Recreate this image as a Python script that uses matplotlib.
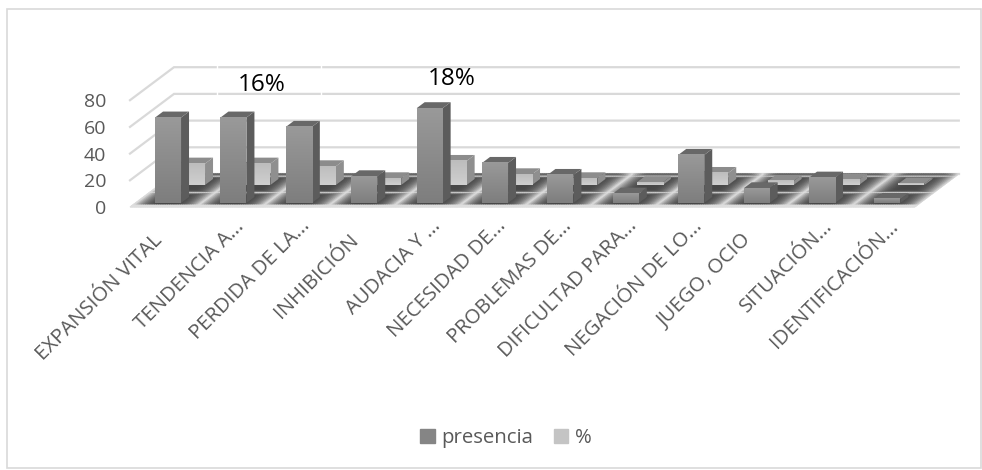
import matplotlib
matplotlib.use("Agg")
import matplotlib.pyplot as plt
import numpy as np
from matplotlib.patches import Patch, Polygon, Rectangle
from matplotlib.transforms import ScaledTranslation

plt.rcParams["font.family"] = ["Open Sans", "DejaVu Sans"]

categories = [
    "EXPANSIÓN VITAL", "TENDENCIA A...", "PERDIDA DE LA...", "INHIBICIÓN",
    "AUDACIA Y ...", "NECESIDAD DE...", "PROBLEMAS DE...", "DIFICULTAD PARA...",
    "NEGACIÓN DE LO...", "JUEGO, OCIO", "SITUACIÓN...", "IDENTIFICACIÓN...",
]
presencia = [64, 64, 57, 20, 71, 30, 21, 7, 36, 11, 19, 3]
porcentaje = [16, 16, 14, 5, 18, 8, 5, 2, 9, 3, 4, 1]
value_ticks = [0, 20, 40, 60, 80]
shown_labels = {1: "16%", 4: "18%"}

W, H = 982, 470
LEFT, BOTTOM = 130, 207  # front left corner of the floor, pixels
CELL = 65.4
UNIT = 1.335  # pixels per value unit
FLOOR_DEPTH = 33
SKEW = 44 / 33
BAR_W = 26 / CELL
TEXT = "#595959"

fig = plt.figure(figsize=(W / 100, H / 100), dpi=100)
ax = fig.add_axes([
    LEFT / W, (H - BOTTOM) / H, 12 * CELL / W, 80 * UNIT / H,
])
ax.set_xlim(-0.5, 11.5)
ax.set_ylim(0, 80)


def depth_xy(x, v, depth):
    """Oblique projection: depth in pixels goes up and to the right."""
    return x + depth * SKEW / CELL, v + depth / UNIT


def px(x_pixel, y_pixel):
    """Figure pixel (top-left origin) to data coordinates."""
    return (x_pixel - LEFT) / CELL - 0.5, (BOTTOM - y_pixel) / UNIT


# Floor
u = np.linspace(0, 12, 361)
w = np.linspace(0, 1, 61)
uu, ww = np.meshgrid(u, w)
cell_pos = np.abs(uu % 1 - 0.5) * 2
row_pos = np.abs(((ww + 0.05) * 2) % 1 - 0.5) * 2
shade = 0.28 + 0.6 * np.maximum(cell_pos**3, row_pos**9)
shade[ww < 0.09] = 0.87
xf, yf = depth_xy(uu - 0.5, 0, ww * FLOOR_DEPTH)
ax.pcolormesh(xf, yf, shade, cmap="gray", vmin=0, vmax=1,
              shading="gouraud", zorder=1, clip_on=False)

# Grid lines on the side and back walls
for v in value_ticks[1:]:
    bx0, by0 = depth_xy(-0.5, v, FLOOR_DEPTH)
    bx1, by1 = depth_xy(11.5, v, FLOOR_DEPTH)
    ax.plot([-0.5, bx0, bx1], [v, by0, by1], color="#d9d9d9", lw=1.6,
            zorder=0, clip_on=False, solid_joinstyle="miter")
bx0, by0 = depth_xy(-0.5, 0, FLOOR_DEPTH)
bx1, by1 = depth_xy(11.5, 0, FLOOR_DEPTH)
ax.plot([bx0, bx1], [by0, by1], color="#d9d9d9", lw=1.6, zorder=0, clip_on=False)

# White slits left in the upper grid lines by the label boxes
for slit in [217, 321]:
    sx, sy0 = px(slit, 97)
    _, sy1 = px(slit, 63)
    ax.plot([sx, sx], [sy0, sy1], color="white", lw=1.0, zorder=0.5, clip_on=False)


def draw_bars(values, depth, top_dark, side_dark, grad_top, grad_bottom, z):
    dx = 8 / CELL
    dy = 6 / UNIT
    for i, val in enumerate(values):
        x0, y0 = depth_xy(i - BAR_W / 2, 0, depth)
        x1 = x0 + BAR_W
        y1 = y0 + val
        zi = z + i * 0.01
        ax.bar(x0, val, width=BAR_W, bottom=y0, align="edge", color=grad_bottom,
               zorder=zi, clip_on=False)
        grad = np.linspace(0, 1, 32).reshape(-1, 1)
        ax.imshow(grad, extent=[x0, x1, y0, y1], aspect="auto", origin="lower",
                  cmap=matplotlib.colors.LinearSegmentedColormap.from_list(
                      "g", [grad_bottom, grad_top]),
                  zorder=zi + 0.001, clip_on=False, interpolation="bilinear")
        ax.add_patch(Polygon([(x1, y0), (x1 + dx, y0 + dy), (x1 + dx, y1 + dy), (x1, y1)],
                             closed=True, fc=side_dark, ec="none", zorder=zi,
                             clip_on=False))
        ax.add_patch(Polygon([(x0, y1), (x1, y1), (x1 + dx, y1 + dy), (x0 + dx, y1 + dy)],
                             closed=True, fc=top_dark, ec="none", zorder=zi,
                             clip_on=False))


draw_bars(porcentaje, 22, "#8c8c8c", "#8f8f8f", "#bdbdbd", "#cfcfcf", 2)
draw_bars(presencia, 4, "#686868", "#5c5c5c", "#999999", "#7e7e7e", 3)
ax.set_xlim(-0.5, 11.5)
ax.set_ylim(0, 80)

# Data labels of the % series, the second one cut at the bottom in the source
lab_pos = {1: (262, 85), 4: (452, 79)}
for i, txt in shown_labels.items():
    tx, ty = px(*lab_pos[i])
    t = ax.text(tx, ty, txt, fontsize=17.5, color="black", ha="center",
                va="center", zorder=5, clip_on=False)
    if i == 4:
        cx, cy = px(400, 88)
        t.set_clip_path(Rectangle((cx, cy), 2, 30, transform=ax.transData))
        t.set_clip_on(True)

ax.set_yticks(value_ticks)
ax.tick_params(axis="y", labelsize=14, labelcolor=TEXT, length=0, pad=17)
ax.tick_params(axis="x", length=0, pad=16)
ax.set_xticks(range(len(categories)))
ax.set_xticklabels(categories, rotation=45, ha="right", va="top",
                   rotation_mode="anchor", fontsize=14.7, color=TEXT)
# tick_params resets label transforms, so the shifts come after it
for label, txt in zip(ax.get_xticklabels(), categories):
    # cut labels reach further up and right than the whole ones
    if txt.endswith("..."):
        shift = (6, 13)
    else:
        shift = (-10, -1)
    label.set_transform(label.get_transform()
                        + ScaledTranslation(shift[0] / 100, shift[1] / 100,
                                            fig.dpi_scale_trans))
for spine in ax.spines.values():
    spine.set_visible(False)
ax.patch.set_alpha(0)

handles = [Patch(color="#858585", label="presencia"), Patch(color="#c4c4c4", label="%")]
fig.legend(handles=handles, loc="center", bbox_to_anchor=(506 / W, 1 - 438 / H),
           ncols=2, frameon=False, fontsize=14.7, labelcolor=TEXT,
           handlelength=0.69, handleheight=0.69, handletextpad=0.34, columnspacing=1.0)

# Outer chart border
fig.add_artist(Rectangle((7 / W, 1 - 468 / H), 974 / W, 459 / H, transform=fig.transFigure,
                         fc="none", ec="#d9d9d9", lw=1.2))

fig.savefig("out.png", dpi=100)
